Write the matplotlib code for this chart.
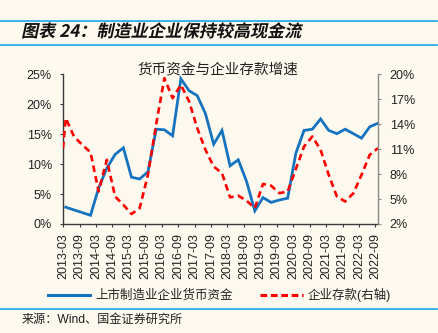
import matplotlib
matplotlib.use("Agg")
import matplotlib.pyplot as plt
import matplotlib.dates as mdates
import pandas as pd
from matplotlib.font_manager import FontProperties
from matplotlib.textpath import TextPath
from matplotlib.patches import PathPatch
from matplotlib.transforms import Affine2D
from matplotlib.lines import Line2D

plt.rcParams["font.family"] = ["Liberation Sans", "Noto Sans CJK SC"]

BG = "#fdf9ef"; RULE = "#2aaee8"; BLUE = "#1573bf"; RED = "#ff0000"; AX = "#3a3a3a"

FIG_TITLE = "图表 24：制造业企业保持较高现金流"
CHART_TITLE = "货币资金与企业存款增速"
SOURCE = "来源：Wind、国金证券研究所"
LBL_CASH = "上市制造业企业货币资金"
LBL_DEP = "企业存款(右轴)"

# quarterly: listed manufacturers' cash balance growth (%), 2013Q1 .. 2022Q3
cash_dates = pd.date_range("2013-03-31", "2022-09-30", freq="QE")
cash_yoy = [2.8, 2.35, 1.9, 1.45,
            6.0, 9.3, 11.6, 12.7,
            7.8, 7.5, 8.7, 15.8,
            15.7, 14.7, 24.2, 22.2,
            21.4, 18.4, 13.3, 15.6,
            9.7, 10.7, 7.1, 2.2,
            4.4, 3.6, 4.0, 4.3,
            11.8, 15.6, 15.8, 17.5,
            15.6, 15.05, 15.8, 15.05,
            14.3, 16.2, 16.8]

# corporate deposit growth (%), right axis
dep_dates = pd.DatetimeIndex(["2013-02-28"]).append(pd.date_range("2013-03-31", "2022-09-30", freq="QE"))
dep_yoy = [11.1,
           14.7, 12.5, 11.5, 10.6,
           5.9, 9.7, 5.3, 4.3,
           3.2, 3.9, 7.9, 14.0,
           19.5, 17.1, 18.7, 16.7,
           13.5, 10.9, 8.9, 8.1,
           5.2, 5.4, 4.8, 3.9,
           6.8, 6.6, 5.7, 5.9,
           8.6, 11.3, 12.5, 10.9,
           7.9, 5.3, 4.7, 5.7,
           7.9, 10.3, 11.1]

tick_dates = pd.date_range("2013-03-01", "2022-09-01", freq="6MS")
left_ticks = [0, 5, 10, 15, 20, 25]
right_ticks = [2, 5, 8, 11, 14, 17, 20]

W, H = 439, 333
fig = plt.figure(figsize=(W / 100, H / 100), dpi=100, facecolor=BG)
ax = fig.add_axes([63 / W, 1 - 224 / H, (378 - 63) / W, (224 - 74) / H])
ax.patch.set_alpha(0)
ax2 = ax.twinx()

ax.plot(cash_dates, cash_yoy, color=BLUE, lw=2.0, solid_joinstyle="miter")
ax2.plot(dep_dates, dep_yoy, color=RED, lw=1.9, ls=(0, (2.5, 1.6)))

ax.set_xlim(pd.Timestamp("2013-02-28"), pd.Timestamp("2022-09-30"))
ax.set_ylim(0, 25); ax.set_yticks(left_ticks)
ax.set_yticklabels([f"{v}%" for v in left_ticks])
ax2.set_ylim(2, 20); ax2.set_yticks(right_ticks)
ax2.set_yticklabels([f"{v}%" for v in right_ticks])
ax.set_xticks(tick_dates)
ax.xaxis.set_major_formatter(mdates.DateFormatter("%Y-%m"))

for a in (ax, ax2):
    a.spines["top"].set_visible(False)
    for s in a.spines.values():
        s.set_color(AX); s.set_linewidth(1.0)
ax.spines["right"].set_visible(False)
ax2.spines["left"].set_visible(False); ax2.spines["bottom"].set_visible(False)
ax2.spines["right"].set_color("#8a8a8a")
ax.tick_params(axis="y", direction="out", length=2.5, width=0.8, color=AX, pad=5.5, labelsize=9, labelcolor="#222")
ax.tick_params(axis="x", direction="out", length=2.5, width=0.8, color=AX, pad=4, labelsize=9, labelcolor="#222", labelrotation=90)
ax2.tick_params(axis="y", direction="out", length=2.5, width=0.8, color="#8a8a8a", pad=6, labelsize=9, labelcolor="#222")

fig.text(218 / W, 1 - 70 / H, CHART_TITLE, ha="center", va="center", fontsize=10.5,
         family=["Noto Sans CJK SC"], color="#222")

handles = [Line2D([], [], color=BLUE, lw=2.2),
           Line2D([], [], color=RED, lw=2.2, ls=(0, (2.2, 1.2)))]
fig.legend(handles, [LBL_CASH, LBL_DEP], loc="center", bbox_to_anchor=(0.5, 1 - 295 / H),
           ncol=2, frameon=False, fontsize=9, handlelength=3.4, handletextpad=0.4,
           columnspacing=2.2, labelcolor="#222")

# rules above/below the header and above the source line
for y in (20.5, 45, 309):
    fig.add_artist(Line2D([0, 437 / W], [1 - y / H] * 2, color=RULE, lw=1.3))

# slanted bold header drawn as a sheared text path
fp = FontProperties(family="Noto Sans CJK SC", weight="bold")
tp = TextPath((0, 0), FIG_TITLE, size=12, prop=fp)
tp = Affine2D().skew_deg(12, 0).transform_path(tp)
bb = tp.get_extents()
sc = (303 - 22) / bb.width
tr = Affine2D().translate(-bb.x0, -bb.y0).scale(sc).translate(22, H - 38.5)
fig.add_artist(PathPatch(tp, transform=tr, facecolor="#111", lw=0))

fig.text(22 / W, 1 - 320 / H, SOURCE, ha="left", va="center", fontsize=8.7, color="#222")

fig.savefig("out.png", dpi=100, facecolor=BG)
